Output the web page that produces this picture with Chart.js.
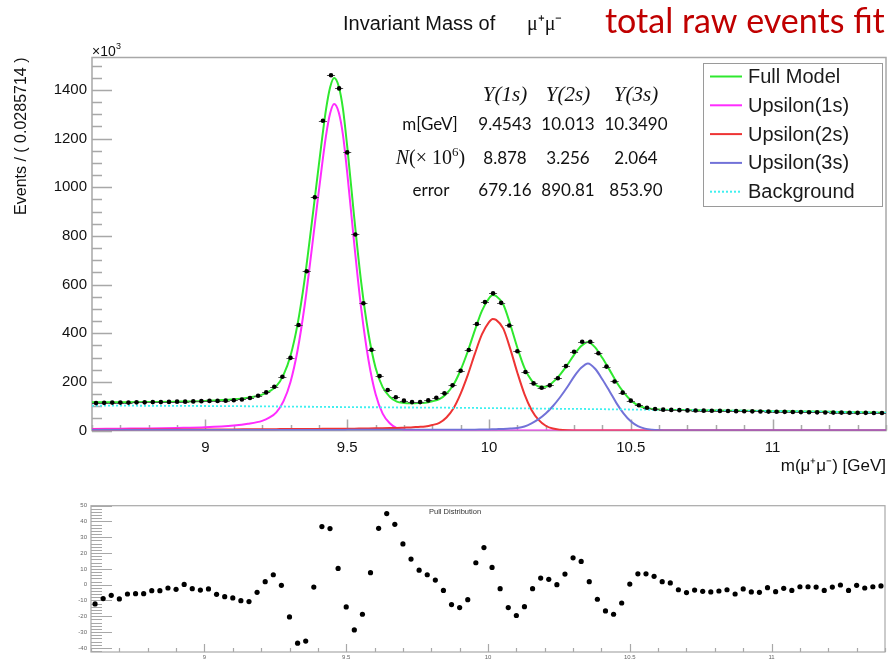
<!DOCTYPE html>
<html>
<head>
<meta charset="utf-8">
<script src="https://cdn.jsdelivr.net/npm/chart.js@4.4.1/dist/chart.umd.min.js"></script>
<style>
  html, body { margin: 0; padding: 0; background: #ffffff; }
  #wrap { position: relative; width: 891px; height: 661px; overflow: hidden; }
  canvas { position: absolute; left: 0; }
  #massChart { top: 0; }
  #pullChart { top: 480px; }
</style>
</head>
<body>
<div id="wrap">
  <canvas id="massChart" width="891" height="480"></canvas>
  <canvas id="pullChart" width="891" height="181"></canvas>
</div>
<script>
// ---- binning of the dimuon mass histogram ----
const massLo = 8.6;
const massHi = 11.4;
const nBins = 98;

// events per bin (x10^3)
const eventsData = [
  113, 114, 115, 115, 115, 116, 116, 117, 117, 118,
  119, 119, 120, 121, 122, 122, 123, 125, 128, 134,
  143, 157, 180, 221, 299, 434, 655, 959, 1273, 1460,
  1406, 1143, 806, 523, 332, 224, 167, 137, 123, 117,
  117, 124, 135, 153, 186, 246, 331, 438, 528, 564,
  525, 432, 326, 241, 194, 176, 186, 215, 265, 324,
  365, 365, 318, 263, 202, 156, 123, 104, 94, 89,
  86, 85, 84, 83, 82.5, 82, 81.5, 81, 80.5, 80,
  79.5, 79, 78.5, 78, 77.5, 77, 76.5, 76, 75.5, 75,
  74.5, 74, 74, 73.5, 73, 73, 72.5, 72.5
];

// pull of each bin
const pullValues = [
  -12.2, -8.8, -6.7, -9.0, -5.9, -5.7, -5.7, -3.8, -3.8, -2.1,
  -2.9, 0.2, -2.5, -3.4, -2.7, -6.1, -7.6, -8.4, -10.1, -10.7,
  -4.8, 1.9, 6.3, -0.4, -20.4, -37.0, -35.7, -1.5, 36.8, 35.5,
  10.3, -14.1, -28.6, -18.7, 7.6, 35.7, 45.0, 38.2, 25.8, 16.2,
  9.2, 6.3, 2.9, -3.6, -12.6, -14.5, -9.5, 13.9, 23.5, 10.9,
  -2.5, -14.5, -19.5, -13.9, -2.5, 4.2, 3.4, 0.0, 6.7, 17.0,
  14.7, 1.9, -9.2, -16.6, -18.7, -11.6, 0.4, 6.9, 6.9, 5.3,
  1.9, 1.1, -3.2, -5.0, -3.4, -4.2, -4.6, -4.0, -3.2, -5.9,
  -2.7, -4.6, -4.8, -1.9, -4.4, -2.3, -3.6, -1.3, -1.3, -1.5,
  -3.6, -1.5, -0.2, -3.6, -0.4, -2.1, -1.3, -0.8
];

// fitted model curves, sampled along the mass axis
const fitMass = [
  8.6, 8.7, 8.8, 8.9, 9.0, 9.1, 9.15, 9.2, 9.225, 9.25,
  9.275, 9.3, 9.325, 9.35, 9.375, 9.4, 9.425, 9.44, 9.454, 9.47,
  9.485, 9.5, 9.525, 9.55, 9.575, 9.6, 9.625, 9.65, 9.675, 9.7,
  9.725, 9.75, 9.775, 9.8, 9.825, 9.85, 9.875, 9.9, 9.925, 9.95,
  9.975, 10.0, 10.013, 10.025, 10.05, 10.075, 10.1, 10.125, 10.15, 10.175,
  10.2, 10.225, 10.25, 10.275, 10.3, 10.325, 10.349, 10.375, 10.4, 10.425,
  10.45, 10.475, 10.5, 10.525, 10.55, 10.575, 10.6, 10.65, 10.7, 10.8,
  10.9, 11.0, 11.1, 11.2, 11.3, 11.4
];
const fitFull = [
  116, 116.5, 117.5, 119, 122, 128.5, 135.5, 148, 161, 182.5,
  228, 307.5, 437.5, 622.5, 852.5, 1092, 1317.5, 1412, 1449, 1415,
  1322, 1167.5, 872.5, 602.5, 398, 258.5, 178.5, 139, 119, 113.5,
  112.2, 112.9, 114.5, 120.5, 129, 151.5, 189, 249, 325, 412,
  492, 543.5, 557, 553, 519, 436, 340.5, 258, 206, 181.5,
  180.5, 198.5, 229, 267.8, 311.5, 347.2, 364.5, 341, 298, 249.5,
  199, 157, 124.5, 104, 94, 89, 86.5, 84.8, 84, 82.5,
  81.5, 80, 78.5, 77, 75, 73
];
const fitUps1 = [
  7, 8, 9, 11, 14, 21, 28, 40, 53, 75,
  120, 200, 330, 515, 745, 985, 1210, 1305, 1342, 1308,
  1215, 1060, 765, 495, 290, 150, 70, 30, 10, 3.5,
  1.2, 0.4, 0, 0, 0, 0, 0, 0, 0, 0,
  0, 0, 0, 0, 0, 0, 0, 0, 0, 0,
  0, 0, 0, 0, 0, 0, 0, 0, 0, 0,
  0, 0, 0, 0, 0, 0, 0, 0, 0, 0,
  0, 0, 0, 0, 0, 0
];
const fitUps2 = [
  4, 4, 4.5, 4.5, 5, 5, 5.5, 6, 6, 6,
  6.5, 6.5, 6.5, 7, 7, 7, 7.5, 7.5, 7.5, 7.5,
  8, 8, 8, 8.5, 9, 9.5, 10, 10.5, 11, 12,
  13, 15, 17, 23, 32, 54, 92, 152, 228, 315,
  395, 446, 459, 455, 420, 336, 238, 150, 85, 44,
  20, 8.5, 3.5, 1.3, 0.5, 0.2, 0, 0, 0, 0,
  0, 0, 0, 0, 0, 0, 0, 0, 0, 0,
  0, 0, 0, 0, 0, 0
];
const fitUps3 = [
  2, 2, 2, 2, 2, 2, 2, 2.5, 2.5, 2.5,
  2.5, 2.5, 2.5, 2.5, 2.5, 2.5, 2.5, 2.5, 2.5, 2.5,
  2.5, 3, 3, 3, 3, 3, 3, 3, 3, 3,
  3, 3, 3, 3, 3, 3.5, 3.5, 3.5, 4, 4,
  4.5, 5, 5.5, 6, 7, 8.5, 11, 17, 30, 47,
  70, 100, 136, 177, 222, 258, 276, 253, 210, 162,
  112, 70, 38, 18, 8, 3.5, 1.5, 0.3, 0, 0,
  0, 0, 0, 0, 0, 0
];
const fitBkg = [
  103, 102.5, 102, 101.5, 101, 100.5, 100, 99.5, 99.5, 99,
  99, 98.5, 98.5, 98, 98, 97.5, 97.5, 97, 97, 97,
  96.5, 96.5, 96.5, 96, 96, 96, 95.5, 95.5, 95, 95,
  95, 94.5, 94.5, 94.5, 94, 94, 93.5, 93.5, 93, 93,
  92.5, 92.5, 92.5, 92, 92, 91.5, 91.5, 91, 91, 90.5,
  90.5, 90, 89.5, 89.5, 89, 89, 88.5, 88, 88, 87.5,
  87, 87, 86.5, 86, 86, 85.5, 85, 84.5, 84, 82.5,
  81.5, 80, 78.5, 77, 75, 73
];

// axis tick labels
const massTicks = [9, 9.5, 10, 10.5, 11];
const eventTicks = [0, 200, 400, 600, 800, 1000, 1200, 1400];
const pullTicks = [-40, -30, -20, -10, 0, 10, 20, 30, 40, 50];

// fit summary table
const stateNames = ['Υ(1s)', 'Υ(2s)', 'Υ(3s)'];
const peakMass = ['9.4543', '10.013', '10.3490'];
const yieldN = ['8.878', '3.256', '2.064'];
const yieldErr = ['679.16', '890.81', '853.90'];

const COLORS = {
  full: '#2fe82f',
  ups1: '#ff2cff',
  ups2: '#ee3434',
  ups3: '#7272d8',
  bkg: '#3ef0f0'
};

const binWidth = (massHi - massLo) / nBins;
const binCenters = eventsData.map((_, i) => massLo + (i + 0.5) * binWidth);
const curve = ys => fitMass.map((x, i) => ({ x, y: ys[i] }));

// frame and ROOT-style inner tick marks
function frameTicks(cfg) {
  return {
    id: 'frameTicks',
    beforeDatasetsDraw(chart) {
      const { ctx, chartArea: a, scales } = chart;
      const xs = scales.x, ys = scales.y;
      ctx.save();
      ctx.strokeStyle = cfg.color;
      ctx.lineWidth = cfg.lineWidth;
      ctx.strokeRect(a.left, a.top, a.right - a.left, a.bottom - a.top);
      ctx.beginPath();
      for (let k = Math.ceil(massLo * 10 - 1e-6); k <= Math.floor(massHi * 10 + 1e-6); k++) {
        const v = k / 10;
        const px = Math.round(xs.getPixelForValue(v)) + 0.5;
        const major = k % 5 === 0;
        ctx.moveTo(px, a.bottom);
        ctx.lineTo(px, a.bottom - (major ? cfg.xMajor : cfg.xMinor));
      }
      for (let v = cfg.yMinorStart; v <= ys.max + 1e-6; v += cfg.yMinorStep) {
        if (v < ys.min) continue;
        const py = Math.round(ys.getPixelForValue(v)) + 0.5;
        const major = Math.abs(v / cfg.yMajorStep - Math.round(v / cfg.yMajorStep)) < 1e-6;
        ctx.moveTo(a.left, py);
        ctx.lineTo(a.left + (major ? cfg.yMajor : cfg.yMinor), py);
      }
      ctx.stroke();
      ctx.restore();
    }
  };
}

// horizontal bin-width bars behind the data markers
const binBars = {
  id: 'binBars',
  beforeDatasetDraw(chart, args) {
    if (args.index !== 0) return;
    const { ctx, scales: { x, y } } = chart;
    ctx.save();
    ctx.strokeStyle = '#555555';
    ctx.lineWidth = 1;
    ctx.beginPath();
    binCenters.forEach((c, i) => {
      const py = Math.round(y.getPixelForValue(eventsData[i])) + 0.5;
      ctx.moveTo(x.getPixelForValue(c - binWidth / 2), py);
      ctx.lineTo(x.getPixelForValue(c + binWidth / 2), py);
    });
    ctx.stroke();
    ctx.restore();
  }
};

// legend box inside the frame
const frameLegend = {
  id: 'frameLegend',
  afterDraw(chart) {
    const ctx = chart.ctx;
    const entries = chart.data.datasets.filter(d => d.legendRow !== undefined)
      .sort((a, b) => a.legendRow - b.legendRow);
    const box = { left: 703.5, top: 63.5, right: 882.5, bottom: 206.5 };
    ctx.save();
    ctx.fillStyle = '#ffffff';
    ctx.fillRect(box.left, box.top, box.right - box.left, box.bottom - box.top);
    ctx.strokeStyle = '#9a9a9a';
    ctx.lineWidth = 1;
    ctx.strokeRect(box.left, box.top, box.right - box.left, box.bottom - box.top);
    ctx.font = '20px "Liberation Sans", Arial, sans-serif';
    ctx.textBaseline = 'middle';
    ctx.textAlign = 'left';
    entries.forEach((d, i) => {
      const yc = 76.5 + i * 28.8;
      ctx.strokeStyle = d.borderColor;
      ctx.lineWidth = 2;
      ctx.setLineDash(d.borderDash || []);
      ctx.beginPath();
      ctx.moveTo(710, yc);
      ctx.lineTo(742, yc);
      ctx.stroke();
      ctx.setLineDash([]);
      ctx.fillStyle = '#1a1a1a';
      ctx.fillText(d.label, 748, yc + 1);
    });
    ctx.restore();
  }
};

// title, exponent and fit summary
const annotations = {
  id: 'annotations',
  afterDraw(chart) {
    const ctx = chart.ctx;
    ctx.save();
    ctx.textBaseline = 'alphabetic';
    ctx.textAlign = 'left';
    ctx.fillStyle = '#111111';
    ctx.font = '20px "Liberation Sans", Arial, sans-serif';
    ctx.fillText('Invariant Mass of', 343, 30);
    ctx.font = '20px "Liberation Serif", serif';
    ctx.fillText('μ⁺μ⁻', 527, 30);

    ctx.fillStyle = '#c00000';
    ctx.font = '34px Lato, "Open Sans", sans-serif';
    ctx.fillText('total raw events fit', 605, 33);

    ctx.fillStyle = '#111111';
    ctx.font = '14px "Liberation Sans", Arial, sans-serif';
    ctx.fillText('×10', 92, 56);
    ctx.font = '9px "Liberation Sans", Arial, sans-serif';
    ctx.fillText('3', 116, 49);

    // fit summary table
    const cols = [505, 568, 636];
    ctx.textAlign = 'center';
    ctx.font = 'italic 21px "Liberation Serif", serif';
    stateNames.forEach((s, i) => ctx.fillText(s, cols[i], 101));
    ctx.font = '17px Lato, "Open Sans", sans-serif';
    ctx.fillText('m[GeV]', 430, 130);
    peakMass.forEach((s, i) => ctx.fillText(s, cols[i], 130));
    yieldN.forEach((s, i) => ctx.fillText(s, cols[i], 164));
    ctx.fillText('error', 431, 195.5);
    yieldErr.forEach((s, i) => ctx.fillText(s, cols[i], 195.5));

    // N(x 10^6) row label
    ctx.textAlign = 'left';
    const parts = [
      { t: 'N', f: 'italic 20px "Liberation Serif", serif', dy: 0 },
      { t: '(× 10', f: '20px "Liberation Serif", serif', dy: 0 },
      { t: '6', f: '13px "Liberation Serif", serif', dy: -8 },
      { t: ')', f: '20px "Liberation Serif", serif', dy: 0 }
    ];
    let total = 0;
    parts.forEach(p => { ctx.font = p.f; p.w = ctx.measureText(p.t).width; total += p.w; });
    let xx = 430.5 - total / 2;
    parts.forEach(p => { ctx.font = p.f; ctx.fillText(p.t, xx, 164 + p.dy); xx += p.w; });
    ctx.restore();
  }
};

const lineSet = (label, ys, color, row, extra) => Object.assign({
  label,
  data: curve(ys),
  showLine: true,
  borderColor: color,
  backgroundColor: color,
  borderWidth: 2,
  pointRadius: 0,
  fill: false,
  cubicInterpolationMode: 'monotone',
  legendRow: row
}, extra || {});

const noGrid = { display: false, drawTicks: false };

new Chart(document.getElementById('massChart'), {
  type: 'scatter',
  data: {
    datasets: [
      {
        label: 'data',
        data: binCenters.map((x, i) => ({ x, y: eventsData[i] })),
        pointRadius: 2.3,
        pointBackgroundColor: '#000000',
        pointBorderWidth: 0,
        showLine: false
      },
      lineSet('Background', fitBkg, COLORS.bkg, 4, { borderDash: [2, 2], borderWidth: 1.8 }),
      lineSet('Upsilon(3s)', fitUps3, COLORS.ups3, 3),
      lineSet('Upsilon(2s)', fitUps2, COLORS.ups2, 2),
      lineSet('Upsilon(1s)', fitUps1, COLORS.ups1, 1),
      lineSet('Full Model', fitFull, COLORS.full, 0)
    ]
  },
  options: {
    responsive: false,
    animation: false,
    devicePixelRatio: 1,
    events: [],
    layout: { padding: { top: 57.5, right: 5, left: 0, bottom: 0 } },
    plugins: { legend: { display: false }, tooltip: { enabled: false } },
    scales: {
      x: {
        type: 'linear', min: massLo, max: massHi,
        grid: noGrid, border: { display: false },
        afterBuildTicks: s => { s.ticks = massTicks.map(v => ({ value: v })); },
        afterFit: s => { s.height = 49.4; },
        ticks: {
          autoSkip: false, maxRotation: 0, padding: 8, color: '#111111',
          font: { family: '"Liberation Sans", Arial, sans-serif', size: 15 },
          callback: v => String(v)
        },
        title: {
          display: true, text: 'm(μ⁺μ⁻) [GeV]', align: 'end', color: '#111111',
          font: { family: '"Liberation Sans", Arial, sans-serif', size: 17 },
          padding: { top: 0, bottom: 3 }
        }
      },
      y: {
        type: 'linear', min: 0, max: 1533,
        grid: noGrid, border: { display: false },
        afterBuildTicks: s => { s.ticks = eventTicks.map(v => ({ value: v })); },
        afterFit: s => { s.width = 92; },
        ticks: {
          autoSkip: false, padding: 5, color: '#111111',
          font: { family: '"Liberation Sans", Arial, sans-serif', size: 15 },
          callback: v => String(v)
        },
        title: {
          display: true, text: 'Events / ( 0.0285714 )', align: 'end', color: '#111111',
          font: { family: '"Liberation Sans", Arial, sans-serif', size: 16 },
          padding: { top: 12.4, bottom: 0 }
        }
      }
    }
  },
  plugins: [
    frameTicks({ color: '#a8a8a8', lineWidth: 1.5, xMajor: 11, xMinor: 5.5,
                 yMajor: 20, yMinor: 10, yMajorStep: 200, yMinorStep: 50, yMinorStart: 0 }),
    binBars, frameLegend, annotations
  ]
});

// pull distribution panel
const pullTitle = {
  id: 'pullTitle',
  afterDraw(chart) {
    const ctx = chart.ctx;
    ctx.save();
    ctx.fillStyle = '#333333';
    ctx.font = '7.5px "Liberation Sans", Arial, sans-serif';
    ctx.textAlign = 'left';
    ctx.textBaseline = 'alphabetic';
    ctx.fillText('Pull Distribution', 429, 34);
    ctx.restore();
  }
};

new Chart(document.getElementById('pullChart'), {
  type: 'scatter',
  data: {
    datasets: [{
      label: 'pull',
      data: binCenters.map((x, i) => ({ x, y: pullValues[i] })),
      pointRadius: 2.6,
      pointBackgroundColor: '#000000',
      pointBorderWidth: 0,
      showLine: false
    }]
  },
  options: {
    responsive: false,
    animation: false,
    devicePixelRatio: 1,
    events: [],
    layout: { padding: { top: 25.7, right: 6, left: 0, bottom: 0 } },
    plugins: { legend: { display: false }, tooltip: { enabled: false } },
    scales: {
      x: {
        type: 'linear', min: massLo, max: massHi,
        grid: noGrid, border: { display: false },
        afterBuildTicks: s => { s.ticks = massTicks.map(v => ({ value: v })); },
        afterFit: s => { s.height = 9; },
        ticks: {
          autoSkip: false, maxRotation: 0, padding: 1.5, color: '#666666',
          font: { family: '"Liberation Sans", Arial, sans-serif', size: 6 },
          callback: v => String(v)
        }
      },
      y: {
        type: 'linear', min: -42.6, max: 50,
        grid: noGrid, border: { display: false },
        afterBuildTicks: s => { s.ticks = pullTicks.map(v => ({ value: v })); },
        afterFit: s => { s.width = 91; },
        ticks: {
          autoSkip: false, padding: 4, color: '#666666',
          font: { family: '"Liberation Sans", Arial, sans-serif', size: 6 },
          callback: v => String(v)
        }
      }
    }
  },
  plugins: [
    frameTicks({ color: '#a8a8a8', lineWidth: 1.2, xMajor: 8, xMinor: 4,
                 yMajor: 21, yMinor: 11, yMajorStep: 10, yMinorStep: 2, yMinorStart: -42 }),
    pullTitle
  ]
});
</script>
</body>
</html>
